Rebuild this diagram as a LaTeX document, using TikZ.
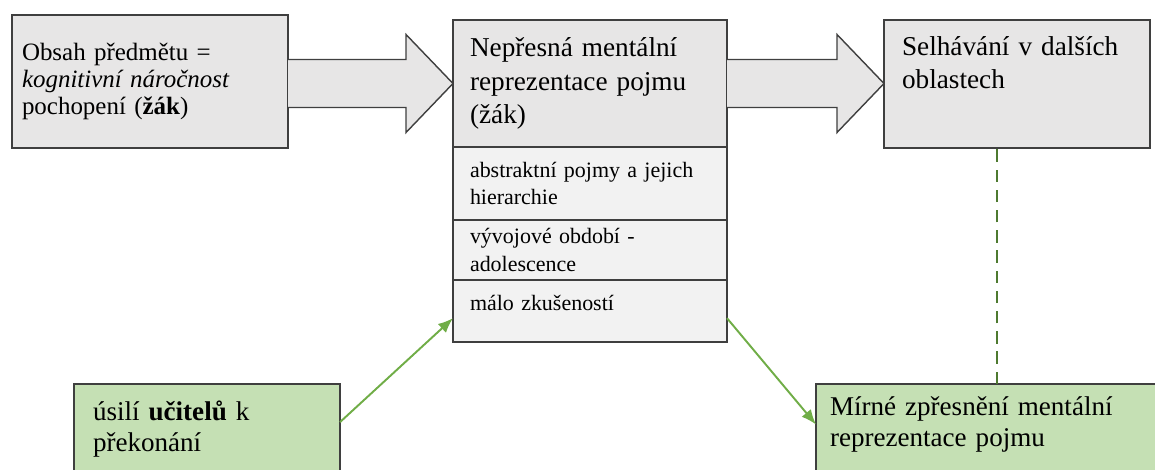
\documentclass[tikz,border=0pt]{standalone}
\usepackage{fontspec}
\setmainfont{Liberation Serif}
\usepackage{tikz}
\usetikzlibrary{positioning, calc, arrows.meta}

\definecolor{boxgrey}{HTML}{E7E6E6}
\definecolor{subgrey}{HTML}{F2F2F2}
\definecolor{boxline}{HTML}{3F3F3F}
\definecolor{boxgreen}{HTML}{C5E0B4}
\definecolor{arrowgreen}{HTML}{70AD47}
\definecolor{dashgreen}{HTML}{4E7A30}

\begin{document}
\begin{tikzpicture}[grey box/.style={draw=boxline, fill=boxgrey, line width=0.8pt, outer sep=0pt, align=left},
	sub box/.style={grey box, fill=subgrey, text width=4.8cm, inner xsep=0.34cm, inner ysep=0.05cm, font=\fontsize{12.5}{15.5}\selectfont},
	green box/.style={grey box, fill=boxgreen, font=\fontsize{15.4}{18}\selectfont},
	green arrow/.style={draw=arrowgreen, line width=1.1pt, -{Latex[length=3mm, width=2.4mm]}},
	block arrow/.style={draw=boxline, fill=boxgrey, line width=0.8pt, line join=miter}]

			\useasboundingbox (0,0) rectangle (23.1,-9.38);
			\clip (0,0) rectangle (23.1,-9.38);

			% top row
			\node[grey box, text width=5.12cm, inner xsep=0.2cm, minimum height=2.66cm, font=\fontsize{14.2}{15.4}\selectfont, anchor=north west] (obsah) at (0.24,-0.30) {Obsah předmětu =\\ \textit{kognitivní náročnost}\\ pochopení (\textbf{žák})};
			\node[grey box, text width=4.8cm, inner xsep=0.34cm, minimum height=2.54cm, font=\fontsize{15.5}{19}\selectfont, right=3.3cm of obsah.north east, anchor=north west, yshift=-0.1cm] (nepresna) {Nepřesná mentální\\ reprezentace pojmu\\ (žák)};
			\node[grey box, text width=4.6cm, inner xsep=0.36cm, inner ysep=0.3cm, text height=0.4cm, text depth=1.56cm, font=\fontsize{15.5}{19}\selectfont, right=3.14cm of nepresna.north east, anchor=north west] (selhavani) {Selhávání v dalších\\ oblastech};

			% causes under the middle box
			\node[sub box, minimum height=1.46cm, below=0pt of nepresna] (abstraktni) {abstraktní pojmy a jejich\\ hierarchie};
			\node[sub box, minimum height=1.2cm, below=0pt of abstraktni] (vyvojove) {vývojové období -\\ adolescence};
			\node[sub box, inner ysep=0.25cm, text height=0.35cm, text depth=0.39cm, below=0pt of vyvojove] (malo) {málo zkušeností};

			% bottom row
			\node[green box, text width=4.56cm, inner xsep=0.38cm, inner ysep=0.27cm, text height=0.45cm, text depth=1.0cm, anchor=north west] (usili) at (1.48,-7.68) {úsilí \textbf{učitelů} k\\ překonání};
			\node[green box, text width=6.68cm, inner xsep=0.28cm, inner ysep=0.22cm, text height=0.4cm, text depth=1.16cm, anchor=north west] (zpresneni) at (16.32,-7.68) {Mírné zpřesnění mentální\\ reprezentace pojmu};

			% block arrows
			\draw[block arrow] ($(obsah.east |- nepresna.west)+(0,0.48)$) -- ($(nepresna.west)+(-0.94,0.48)$) -- ++(0,0.5) -- (nepresna.west) -- ($(nepresna.west)+(-0.94,-0.98)$) -- ++(0,0.5) -- ($(obsah.east |- nepresna.west)+(0,-0.48)$);
			\draw[block arrow] ($(nepresna.east)+(0,0.48)$) -- ($(selhavani.west |- nepresna.east)+(-0.94,0.48)$) -- ++(0,0.5) -- (selhavani.west |- nepresna.east) -- ($(selhavani.west |- nepresna.east)+(-0.94,-0.98)$) -- ++(0,0.5) -- ($(nepresna.east)+(0,-0.48)$);

			% green connectors
			\draw[green arrow] (usili.5) -- (malo.183);
			\draw[green arrow] (malo.-3) -- (zpresneni.177);
			\draw[dashgreen, line width=1.1pt, dash pattern=on 7pt off 4.5pt] (zpresneni.north) -- (zpresneni.north |- selhavani.south);

		\end{tikzpicture}
\end{document}
